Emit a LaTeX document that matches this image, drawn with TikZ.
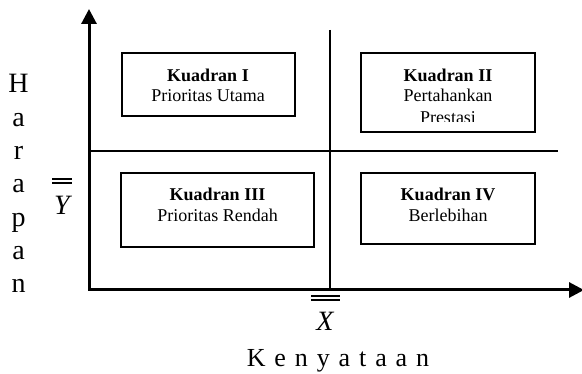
\documentclass[tikz,border=0pt]{standalone}
\usepackage{fontspec}
\setmainfont{Liberation Serif}
\usetikzlibrary{arrows.meta}
\newcommand{\kgap}{\hspace{8.9pt}}
\begin{document}
\begin{tikzpicture}[x=1pt,y=-1pt,
  axis/.style={line width=3pt,{Triangle[length=15pt,width=15pt]}-{Triangle[length=15pt,width=15pt]}},
  midline/.style={line width=2pt},
  qbox/.style={draw,line width=2.6pt,fill=white,inner sep=0pt},
  qtext/.style={font=\fontsize{18}{20}\selectfont,anchor=base,inner sep=0pt},
  qbold/.style={qtext,font=\fontsize{18}{20}\selectfont\bfseries},
  big/.style={font=\fontsize{28}{30}\selectfont,anchor=base,inner sep=0pt},
  bar/.style={line width=1.2pt}]
\useasboundingbox[fill=white] (0,0) rectangle (582,374);
% quadrant boxes
\node[qbox,minimum width=173pt,minimum height=63pt] (q1) at (208.5,84.5) {};
\node[qbox,minimum width=174pt,minimum height=79pt] (q2) at (448,92.5) {};
\node[qbox,minimum width=193pt,minimum height=74pt] (q3) at (217.5,210) {};
\node[qbox,minimum width=174pt,minimum height=71pt] (q4) at (448,208.5) {};
% axes and mid lines
\coordinate (O) at (89,290);
\coordinate (ytop) at (89,9);
\coordinate (xend) at (584,290);
\coordinate (vtop) at (330,30);
\coordinate (vbot) at (330,290);
\coordinate (hl) at (89,151);
\coordinate (hr) at (558,151);
\draw[midline] (vtop) -- (vbot);
\draw[midline] (hl) -- (hr);
\draw[axis] (ytop) -- (O) -- (xend);
% box texts
\node[qbold] (t1a) at (208,82) {Kuadran I};
\node[qtext] (t1b) at (208,102) {Prioritas Utama};
\node[qbold] (t2a) at (448,82) {Kuadran II};
\node[qtext] (t2b) at (448,102) {Pertahankan};
\begin{scope}
\clip (361,53) rectangle (535,122);
\node[qtext] (t2c) at (448,124) {Prestasi};
\end{scope}
\node[qbold] (t3a) at (217.5,201) {Kuadran III};
\node[qtext] (t3b) at (217.5,222) {Prioritas Rendah};
\node[qbold] (t4a) at (448,201) {Kuadran IV};
\node[qtext] (t4b) at (448,222) {Berlebihan};
% vertical axis title
\foreach \l/\y [count=\i] in {H/93,a/127,r/160,a/193,p/227,a/260,n/293}
  \node[big] (h\i) at (18.6,\y) {\l};
% Y double bar
\node[big,font=\fontsize{28}{30}\selectfont\itshape] (ybar) at (62,215) {Y};
\draw[bar] (52,179) -- (72,179);
\draw[bar] (52,183) -- (72,183);
% X double bar
\node[big,font=\fontsize{28}{30}\selectfont\itshape] (xbar) at (325,331) {X};
\draw[bar] (311,296) -- (340,296);
\draw[bar] (311,300) -- (340,300);
% horizontal axis title
\node[big,font=\fontsize{26}{28}\selectfont] (kn) at (338,367) {K\kgap e\kgap n\kgap y\kgap a\kgap t\kgap a\kgap a\kgap n};
\end{tikzpicture}
\end{document}
